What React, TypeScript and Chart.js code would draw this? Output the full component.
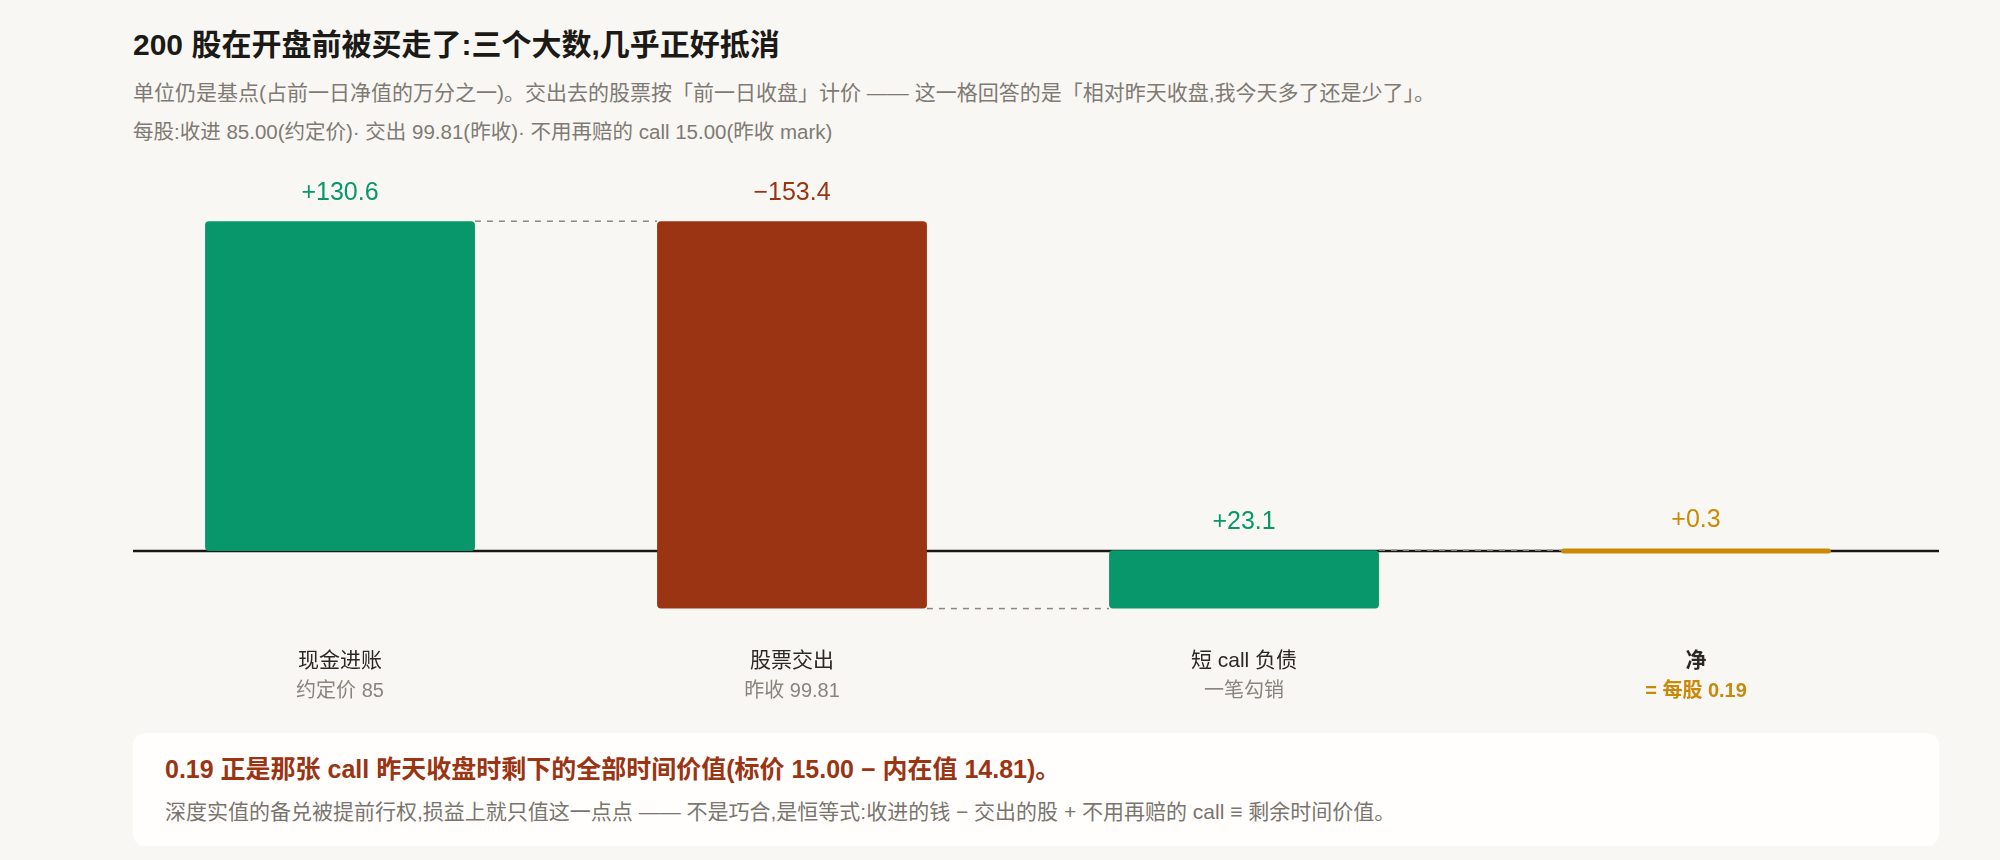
import React, { useEffect, useRef } from 'react';
import { Chart, registerables } from 'chart.js';

Chart.register(...registerables);

// ---- data (basis points of prior-day NAV) ----
const categories = ['现金进账', '股票交出', '短 call 负债', '净'];
const subLabels = ['约定价 85', '昨收 99.81', '一笔勾销', '= 每股 0.19'];
const steps = [130.6, -153.4, 23.1];
const netValue = 0.3;
const valueLabels = ['+130.6', '−153.4', '+23.1', '+0.3'];

const FONT = '"Liberation Sans", "Noto Sans CJK SC", sans-serif';
const GREEN = '#07976b';
const RED = '#9a3412';
const GOLD = '#ca8a04';
const barColors = [GREEN, RED, GREEN, GOLD];
const subColors = ['#8a847e', '#8a847e', '#8a847e', '#c8880a'];

// running totals -> floating bar spans
const levels: number[] = [];
const spans: number[][] = [];
let run = 0;
steps.forEach(d => {
    spans.push([run, run + d]);
    run = Math.round((run + d) * 10) / 10;
    levels.push(run);
});
spans.push([0, netValue]);

const waterfallPlugin = {
    id: 'waterfall',
    beforeDatasetsDraw(chart: any) {
        const { ctx, chartArea, scales } = chart;
        const y0 = scales.y.getPixelForValue(0);
        ctx.save();
        ctx.strokeStyle = '#1a1816';
        ctx.lineWidth = 2.5;
        ctx.beginPath();
        ctx.moveTo(chartArea.left, y0);
        ctx.lineTo(chartArea.right, y0);
        ctx.stroke();
        ctx.restore();
    },
    afterDatasetsDraw(chart: any) {
        const { ctx, chartArea, scales } = chart;
        const bars = chart.getDatasetMeta(0).data as any[];

        // dashed connectors between consecutive bars
        ctx.save();
        ctx.setLineDash([6, 6]);
        ctx.strokeStyle = '#8c8782';
        ctx.lineWidth = 1.5;
        levels.forEach((lv, i) => {
            const a = bars[i];
            const b = bars[i + 1];
            if (!a || !b) return;
            const y = scales.y.getPixelForValue(lv);
            ctx.beginPath();
            ctx.moveTo(a.x + a.width / 2, y);
            ctx.lineTo(b.x - b.width / 2, y);
            ctx.stroke();
        });
        ctx.restore();

        ctx.save();
        ctx.textAlign = 'center';
        ctx.textBaseline = 'middle';
        bars.forEach((bar, i) => {
            const top = Math.min(bar.y, bar.base);
            ctx.font = `500 25px ${FONT}`;
            ctx.fillStyle = barColors[i];
            ctx.fillText(valueLabels[i], bar.x, top - 28);

            const isNet = i === bars.length - 1;
            ctx.font = `${isNet ? 700 : 400} 21px ${FONT}`;
            ctx.fillStyle = '#2b2825';
            ctx.fillText(categories[i], bar.x, chartArea.bottom + 34);

            ctx.font = `${isNet ? 600 : 400} 20px ${FONT}`;
            ctx.fillStyle = subColors[i];
            ctx.fillText(subLabels[i], bar.x, chartArea.bottom + 65);
        });
        ctx.restore();
    },
};

function WaterfallChart() {
    const chartRef = useRef<HTMLCanvasElement | null>(null);
    const chartInstance = useRef<Chart | null>(null);

    useEffect(() => {
        if (!chartRef.current) return;
        if (chartInstance.current) {
            chartInstance.current.destroy();
        }
        const ctx = chartRef.current.getContext('2d');
        if (!ctx) return;

        chartInstance.current = new Chart(ctx, {
            type: 'bar',
            data: {
                datasets: [{
                    data: spans.map((s, i) => ({ x: i, y: s })) as any,
                    backgroundColor: barColors,
                    borderRadius: 4,
                    borderSkipped: false,
                    barPercentage: 0.597,
                    categoryPercentage: 1,
                    minBarLength: 5,
                }],
            },
            options: {
                animation: false,
                responsive: true,
                maintainAspectRatio: false,
                layout: { padding: { left: 133, right: 61, top: 9.6, bottom: 93.25 } },
                plugins: {
                    legend: { display: false },
                    tooltip: { enabled: false },
                },
                scales: {
                    x: {
                        type: 'linear',
                        display: false,
                        offset: false,
                        min: -0.458,
                        max: 3.5376,
                        afterBuildTicks: (scale: any) => {
                            scale.ticks = categories.map((_, i) => ({ value: i }));
                        },
                    },
                    y: {
                        display: false,
                        min: -30,
                        max: 155,
                    },
                },
            },
            plugins: [waterfallPlugin],
        });

        return () => {
            if (chartInstance.current) {
                chartInstance.current.destroy();
                chartInstance.current = null;
            }
        };
    }, []);

    return <canvas ref={chartRef} />;
}

export default function App() {
    const abs = (left: number, top: number, size: number, extra: React.CSSProperties = {}): React.CSSProperties => ({
        position: 'absolute',
        left,
        top,
        fontSize: size,
        lineHeight: `${size}px`,
        whiteSpace: 'nowrap',
        ...extra,
    });

    return (
        <div style={{ position: 'fixed', inset: 0, width: 2000, height: 860, background: '#f9f7f3', fontFamily: FONT, overflow: 'hidden' }}>
            <div style={abs(133, 30, 30, { fontWeight: 700, color: '#1c1a17' })}>
                200 股在开盘前被买走了:三个大数,几乎正好抵消
            </div>
            <div style={abs(133, 82, 21, { color: '#7f7a74' })}>
                单位仍是基点(占前一日净值的万分之一)。交出去的股票按「前一日收盘」计价 —— 这一格回答的是「相对昨天收盘,我今天多了还是少了」。
            </div>
            <div style={abs(133, 121.5, 20.5, { color: '#7f7a74' })}>
                每股:收进 85.00(约定价)· 交出 99.81(昨收)· 不用再赔的 call 15.00(昨收 mark)
            </div>

            <div style={{ position: 'absolute', left: 0, top: 150, width: 2000, height: 570 }}>
                <WaterfallChart />
            </div>

            <div style={{ position: 'absolute', left: 133, top: 733, width: 1806, height: 113, background: '#fffefc', borderRadius: 12 }}>
                <div style={abs(32, 23.5, 25, { fontWeight: 700, color: RED })}>
                    0.19 正是那张 call 昨天收盘时剩下的全部时间价值(标价 15.00 − 内在值 14.81)。
                </div>
                <div style={abs(32, 67.5, 21, { color: '#7a756f' })}>
                    深度实值的备兑被提前行权,损益上就只值这一点点 —— 不是巧合,是恒等式:收进的钱 − 交出的股 + 不用再赔的 call ≡ 剩余时间价值。
                </div>
            </div>
        </div>
    );
}
